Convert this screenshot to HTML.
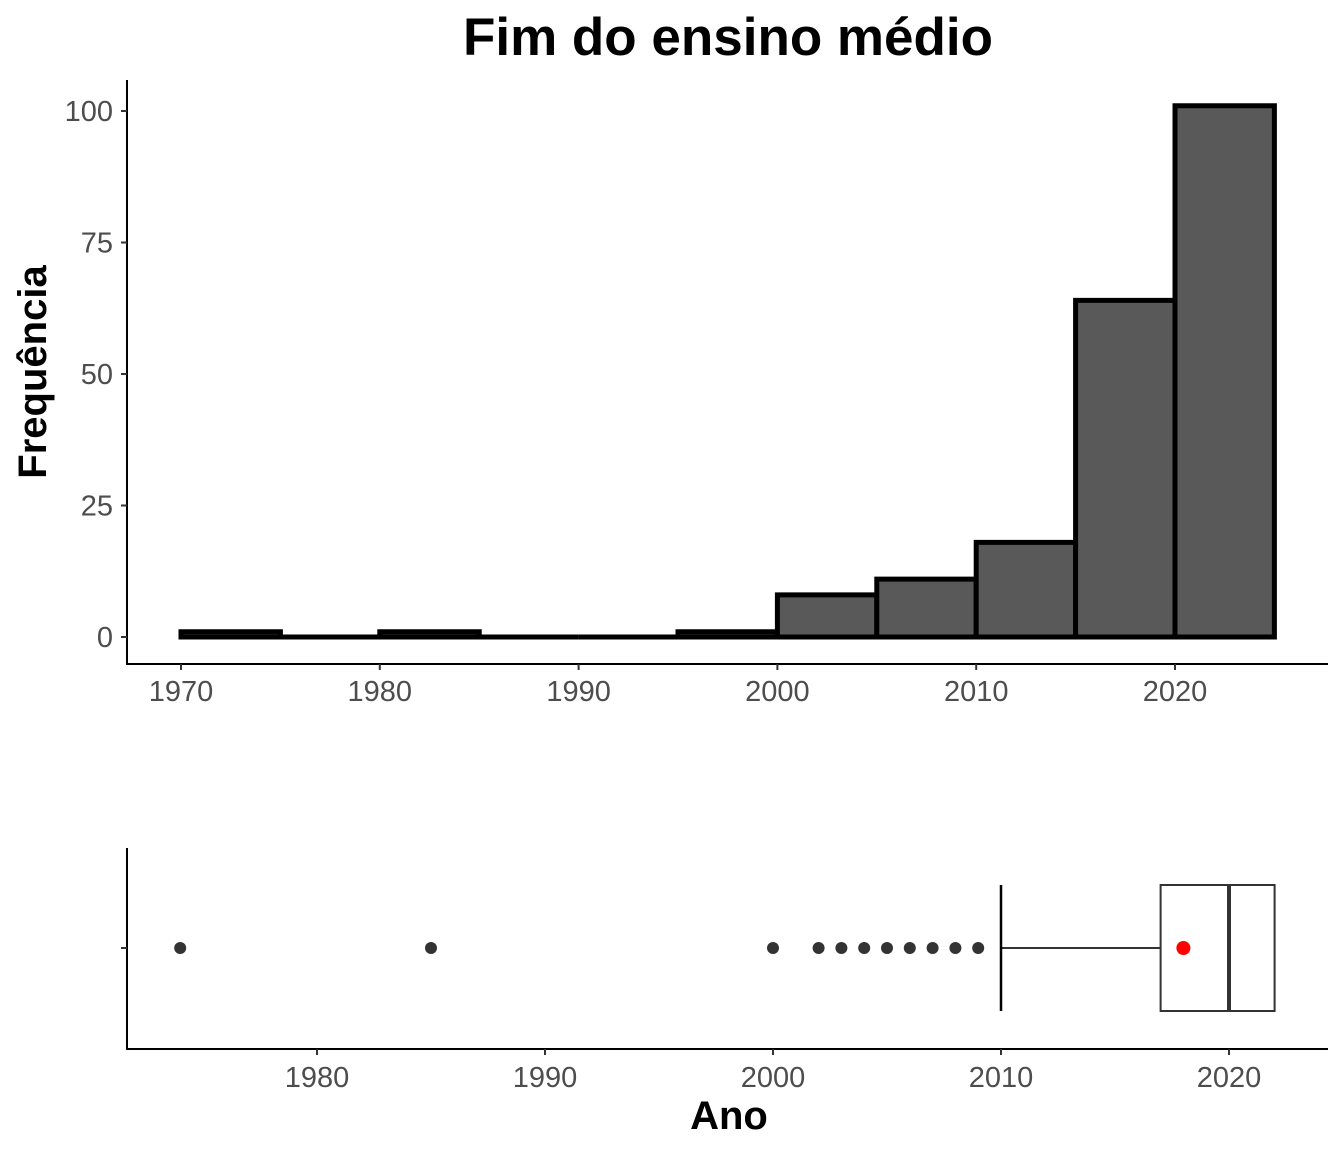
<!DOCTYPE html>
<html><head><meta charset="utf-8"><style>
body{margin:0;background:#fff}
svg text{font-family:"Liberation Sans",Arial,sans-serif}
</style></head><body>
<svg id="chart" width="1344" height="1152" xmlns="http://www.w3.org/2000/svg">
<text x="728" y="55" text-anchor="middle" font-size="53" font-weight="bold">Fim do ensino médio</text>
<text transform="translate(46,372) rotate(-90)" text-anchor="middle" font-size="40" font-weight="bold">Frequência</text>
<text x="729" y="1129" text-anchor="middle" font-size="40" font-weight="bold">Ano</text>
<g id="hist"></g><g id="box"></g>
</svg>
<script>
const binStarts=[1970,1975,1980,1985,1990,1995,2000,2005,2010,2015,2020];
const binCounts=[1,0,1,0,0,1,8,11,18,64,101];
const binWidth=5;
const yTicks=[0,25,50,75,100];
const xTicksHist=[1970,1980,1990,2000,2010,2020];
const boxStats=[2010,2017,2020,2022,2022];
const boxMean=[2018];
const outliers=[1974,1985,2000,2002,2003,2004,2005,2006,2007,2008,2009];
const xTicksBox=[1980,1990,2000,2010,2020];
const NS="http://www.w3.org/2000/svg";
function mk(p,t,a){const e=document.createElementNS(NS,t);for(const k in a)e.setAttribute(k,a[k]);p.appendChild(e);return e;}
const hx=v=>181+(v-1970)*(1175-181)/50;
const hy=v=>637-v*(637-111)/100;
const bx=v=>317+(v-1980)*(1229-317)/40;
const FS=29;
const H=document.getElementById('hist');
binStarts.forEach((s,i)=>{const y=hy(binCounts[i]);const x0=hx(s),x1=hx(s+binWidth),y0=hy(0);
const r=mk(H,'path',{d:`M${x0} ${y0}V${y}H${x1}V${y0}Z`,fill:'#595959',stroke:'#000','stroke-width':5});

});
let l=mk(H,'path',{d:'M127 80V664H1328',fill:'none',stroke:'#000','stroke-width':2});


yTicks.forEach(t=>{mk(H,'line',{x1:121,x2:127,y1:hy(t),y2:hy(t),stroke:'#333','stroke-width':2});
const tx=mk(H,'text',{x:113,y:hy(t)+10,'text-anchor':'end','font-size':FS,fill:'#4d4d4d'});tx.textContent=t;

});
xTicksHist.forEach(t=>{mk(H,'line',{x1:hx(t),x2:hx(t),y1:664,y2:670,stroke:'#333','stroke-width':2});
const tx=mk(H,'text',{x:hx(t),y:701,'text-anchor':'middle','font-size':FS,fill:'#4d4d4d'});tx.textContent=t;

});
const B=document.getElementById('box');
const cy=948;
l=mk(B,'path',{d:'M127 848V1049H1328',fill:'none',stroke:'#000','stroke-width':2});


mk(B,'line',{x1:121,x2:127,y1:cy,y2:cy,stroke:'#333','stroke-width':2});
xTicksBox.forEach(t=>{mk(B,'line',{x1:bx(t),x2:bx(t),y1:1049,y2:1055,stroke:'#333','stroke-width':2});
const tx=mk(B,'text',{x:bx(t),y:1087,'text-anchor':'middle','font-size':FS,fill:'#4d4d4d'});tx.textContent=t;

});
l=mk(B,'line',{x1:bx(boxStats[0]),x2:bx(boxStats[1]),y1:cy,y2:cy,stroke:'#333','stroke-width':2});


mk(B,'line',{x1:bx(boxStats[0]),x2:bx(boxStats[0]),y1:885,y2:1011,stroke:'#000','stroke-width':2.5});
const bxr=mk(B,'rect',{x:bx(boxStats[1]),y:885,width:bx(boxStats[3])-bx(boxStats[1]),height:126,fill:'#fff',stroke:'#333','stroke-width':2});


mk(B,'line',{x1:bx(boxStats[2]),x2:bx(boxStats[2]),y1:885,y2:1011,stroke:'#333','stroke-width':4});
outliers.forEach(o=>{const c=mk(B,'circle',{cx:bx(o),cy:cy,r:6,fill:'#333'});

});
boxMean.forEach(m=>{const c=mk(B,'circle',{cx:bx(m),cy:cy,r:7,fill:'#ff0000'});

});
</script>
</body></html>
